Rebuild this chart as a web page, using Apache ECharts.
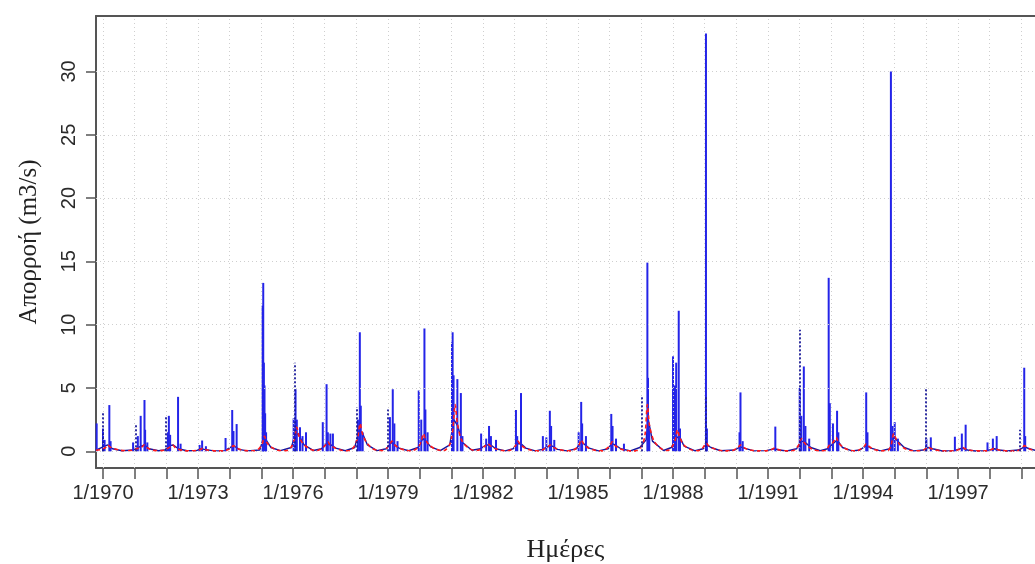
<!DOCTYPE html>
<html>
<head>
<meta charset="utf-8">
<script src="https://cdn.jsdelivr.net/npm/echarts@6/dist/echarts.min.js"></script>
<style>html,body{margin:0;padding:0;background:#fff}#c{width:1035px;height:564px}</style>
</head>
<body>
<div id="c"></div>
<script>
// ---- tick definitions ----
const yearTicks = [1970,1971,1972,1973,1974,1975,1976,1977,1978,1979,1980,1981,1982,1983,1984,1985,1986,1987,1988,1989,1990,1991,1992,1993,1994,1995,1996,1997,1998,1999];
const labelYears = [1970,1973,1976,1979,1982,1985,1988,1991,1994,1997];
const yTicks = [0,5,10,15,20,25,30];

// ---- observed flow: spike peaks (time in decimal years, m3/s) ----
const peakT = [1969.80,1970.00,1970.05,1970.20,1970.24,1970.95,1971.10,1971.19,1971.31,1971.33,1971.40,
  1972.05,1972.08,1972.12,1972.37,1972.45,1973.05,1973.13,1973.25,1973.87,1974.08,1974.12,1974.22,
  1975.04,1975.06,1975.08,1975.10,1975.12,1975.15,1976.02,1976.08,1976.12,1976.22,1976.30,1976.41,
  1976.94,1977.06,1977.10,1977.18,1977.26,1978.05,1978.11,1978.14,1978.20,1979.06,1979.15,1979.20,1979.30,
  1979.97,1980.05,1980.15,1980.18,1980.25,1981.02,1981.04,1981.07,1981.19,1981.30,1981.35,
  1981.94,1982.10,1982.19,1982.25,1982.41,1983.04,1983.08,1983.20,1983.89,1984.00,1984.11,1984.15,1984.25,
  1985.02,1985.10,1985.13,1985.25,1986.05,1986.09,1986.20,1986.45,1987.19,1987.21,1987.25,
  1988.00,1988.06,1988.10,1988.18,1988.22,1989.04,1989.07,1990.10,1990.13,1990.20,1991.23,
  1992.00,1992.05,1992.13,1992.18,1992.30,1992.915,1992.95,1993.05,1993.18,1993.22,1994.10,1994.14,
  1994.88,1994.93,1995.00,1995.10,1996.00,1996.14,1996.90,1997.12,1997.24,1997.93,1998.10,1998.22,1999.09,1999.12];
const peakQ = [2.2,1.8,0.9,3.65,0.8,0.7,1.2,2.8,4.05,1.7,0.7,
  1.5,2.8,1.3,4.3,0.6,0.5,0.85,0.4,1.05,3.26,1.6,2.15,
  11.5,13.3,7.0,5.2,3.0,1.5,2.6,4.9,2.5,1.9,1.2,1.5,
  2.3,5.3,1.5,1.4,1.4,2.5,9.4,3.6,1.5,2.7,4.9,2.2,0.8,
  4.8,2.5,9.7,3.3,1.5,8.6,9.4,6.0,5.7,4.6,1.2,
  1.4,1.0,2.0,1.2,0.9,3.26,1.2,4.6,1.2,1.1,3.2,2.0,0.9,
  1.5,3.9,2.2,1.2,2.95,2.0,1.0,0.6,14.9,5.8,1.8,
  7.5,5.2,7.0,11.1,1.8,33.0,1.8,1.5,4.65,0.8,1.95,
  5.0,2.8,6.7,2.0,1.0,13.7,3.8,2.2,3.2,1.5,4.65,1.5,
  30.0,2.0,2.3,1.0,1.0,1.1,1.15,1.4,2.1,0.7,1.0,1.2,6.6,1.2];

// ---- observed flow: spikes that appear dotted ----
const dotT = [1970.00,1971.03,1971.98,1976.06,1978.02,1979.00,1987.02,1989.02,1991.99,1995.97,1998.95];
const dotQ = [3.1,2.2,2.7,7.0,3.5,3.3,4.3,4.4,9.6,4.9,1.7];

// ---- observed flow: low-flow trace between spikes ----
const baseT = [1969.78,1970.05,1970.15,1970.30,1970.60,1970.95,1971.20,1971.32,1971.45,1971.75,
  1971.95,1972.10,1972.22,1972.38,1972.65,1972.95,1973.10,1973.20,1973.50,
  1973.85,1974.05,1974.15,1974.30,1974.55,1974.95,1975.05,1975.15,1975.30,1975.60,
  1975.95,1976.08,1976.20,1976.35,1976.65,1976.90,1977.05,1977.20,1977.35,1977.65,
  1977.95,1978.08,1978.18,1978.35,1978.65,1978.95,1979.10,1979.22,1979.35,1979.65,
  1979.95,1980.10,1980.20,1980.35,1980.65,1980.95,1981.08,1981.20,1981.35,1981.65,
  1981.92,1982.10,1982.25,1982.40,1982.70,1982.95,1983.08,1983.20,1983.35,1983.65,
  1983.88,1984.08,1984.20,1984.35,1984.65,1984.95,1985.08,1985.18,1985.35,1985.65,
  1985.95,1986.06,1986.18,1986.35,1986.65,1986.95,1987.15,1987.22,1987.35,1987.70,
  1987.95,1988.08,1988.20,1988.35,1988.70,1988.95,1989.06,1989.20,1989.50,
  1989.95,1990.12,1990.25,1990.55,1990.95,1991.20,1991.35,1991.60,
  1991.90,1992.05,1992.18,1992.35,1992.65,1992.88,1993.05,1993.18,1993.35,1993.65,
  1993.90,1994.10,1994.25,1994.55,1994.85,1994.97,1995.10,1995.30,1995.60,
  1995.90,1996.05,1996.20,1996.50,1996.88,1997.12,1997.30,1997.55,
  1997.90,1998.15,1998.30,1998.55,1998.90,1999.10,1999.25,1999.50,1999.75];
const baseQ = [0.1,0.4,0.5,0.2,0.04,0.1,0.4,0.5,0.2,0.04,
  0.1,0.45,0.5,0.2,0.04,0.05,0.2,0.15,0.03,
  0.05,0.35,0.4,0.15,0.03,0.1,0.9,0.9,0.3,0.05,
  0.3,1.5,1.2,0.5,0.06,0.2,0.6,0.5,0.25,0.04,
  0.3,1.6,1.5,0.5,0.05,0.2,0.7,0.5,0.25,0.04,
  0.3,1.0,0.8,0.35,0.05,0.5,2.5,2.0,0.7,0.08,
  0.2,0.5,0.5,0.2,0.03,0.2,0.6,0.6,0.25,0.03,
  0.15,0.4,0.4,0.15,0.03,0.2,0.7,0.6,0.25,0.03,
  0.2,0.6,0.5,0.2,0.03,0.3,0.9,2.5,0.8,0.06,
  0.3,1.0,1.2,0.4,0.04,0.2,0.5,0.3,0.04,
  0.1,0.35,0.25,0.03,0.05,0.2,0.1,0.02,
  0.2,0.8,0.7,0.3,0.04,0.2,0.6,0.9,0.3,0.03,
  0.1,0.45,0.25,0.03,0.2,1.1,0.8,0.3,0.03,
  0.1,0.3,0.2,0.02,0.05,0.25,0.1,0.02,
  0.05,0.2,0.1,0.02,0.1,0.35,0.2,0.04,0.02];

// ---- simulated flow (red dashed) ----
const simT = [1969.78,1969.95,1970.08,1970.15,1970.22,1970.35,1970.55,1970.75,
  1970.95,1971.12,1971.23,1971.30,1971.37,1971.50,1971.70,
  1971.85,1972.02,1972.13,1972.20,1972.27,1972.40,1972.60,
  1972.80,1972.97,1973.08,1973.15,1973.22,1973.35,1973.55,
  1973.77,1973.94,1974.05,1974.12,1974.19,1974.32,1974.52,
  1974.75,1974.92,1975.03,1975.10,1975.17,1975.30,1975.50,1975.70,
  1975.80,1975.96,1976.05,1976.12,1976.19,1976.32,1976.52,1976.72,
  1976.82,1976.95,1977.03,1977.10,1977.17,1977.30,1977.50,1977.70,
  1977.80,1977.96,1978.05,1978.12,1978.19,1978.32,1978.52,1978.72,
  1978.80,1978.96,1979.05,1979.12,1979.19,1979.32,1979.52,1979.72,
  1979.80,1979.96,1980.05,1980.12,1980.19,1980.32,1980.52,1980.72,
  1980.80,1980.96,1981.05,1981.12,1981.19,1981.32,1981.52,1981.72,
  1981.85,1982.00,1982.08,1982.15,1982.22,1982.35,1982.55,1982.75,
  1982.85,1982.98,1983.04,1983.10,1983.17,1983.30,1983.50,1983.70,
  1983.82,1983.97,1984.05,1984.12,1984.19,1984.32,1984.52,1984.72,
  1984.82,1984.97,1985.04,1985.10,1985.17,1985.30,1985.50,1985.70,
  1985.80,1985.95,1986.02,1986.08,1986.15,1986.28,1986.48,1986.70,
  1986.85,1987.02,1987.12,1987.19,1987.26,1987.40,1987.60,1987.78,
  1987.85,1987.98,1988.07,1988.14,1988.21,1988.34,1988.54,1988.74,
  1988.80,1988.93,1988.99,1989.05,1989.12,1989.25,1989.45,1989.65,
  1989.85,1989.99,1990.07,1990.13,1990.20,1990.33,1990.53,1990.73,
  1990.90,1991.05,1991.14,1991.20,1991.27,1991.40,1991.60,
  1991.78,1991.93,1991.99,1992.05,1992.12,1992.25,1992.45,1992.65,
  1992.82,1992.94,1993.05,1993.15,1993.22,1993.35,1993.55,1993.75,
  1993.82,1993.97,1994.04,1994.10,1994.17,1994.30,1994.50,1994.70,
  1994.78,1994.88,1994.92,1994.97,1995.04,1995.17,1995.37,1995.57,
  1995.80,1995.95,1996.00,1996.05,1996.12,1996.25,1996.45,1996.65,
  1996.85,1997.00,1997.08,1997.15,1997.22,1997.35,1997.55,
  1997.85,1998.00,1998.08,1998.15,1998.22,1998.35,1998.55,1998.75,
  1998.85,1998.98,1999.04,1999.10,1999.17,1999.30,1999.50,1999.75];
const simQ = [0.08,0.15,0.3,0.5,0.35,0.2,0.08,0.04,
  0.1,0.25,0.35,0.5,0.32,0.15,0.05,
  0.05,0.2,0.35,0.5,0.32,0.15,0.05,
  0.03,0.08,0.15,0.25,0.15,0.08,0.03,
  0.03,0.12,0.28,0.45,0.3,0.15,0.05,
  0.04,0.2,0.6,1.2,0.7,0.35,0.1,0.04,
  0.06,0.4,1.0,1.9,1.2,0.6,0.2,0.06,
  0.1,0.3,0.5,0.75,0.5,0.3,0.1,0.04,
  0.06,0.5,1.2,2.2,1.4,0.7,0.2,0.06,
  0.05,0.25,0.5,0.8,0.55,0.3,0.1,0.04,
  0.06,0.35,0.8,1.4,0.9,0.45,0.15,0.05,
  0.08,0.6,1.8,3.7,2.2,0.9,0.3,0.08,
  0.08,0.3,0.45,0.6,0.45,0.25,0.08,0.03,
  0.08,0.3,0.5,0.8,0.55,0.3,0.1,0.03,
  0.05,0.25,0.35,0.5,0.35,0.2,0.07,0.03,
  0.05,0.3,0.55,0.9,0.6,0.3,0.1,0.03,
  0.05,0.3,0.5,0.75,0.5,0.25,0.08,0.03,
  0.05,0.4,1.4,3.7,2.0,0.8,0.25,0.06,
  0.08,0.4,0.9,1.7,1.1,0.5,0.15,0.04,
  0.05,0.25,0.45,0.65,0.45,0.25,0.08,0.03,
  0.04,0.2,0.35,0.5,0.35,0.18,0.06,0.03,
  0.03,0.1,0.17,0.25,0.17,0.08,0.03,
  0.04,0.35,0.6,1.0,0.75,0.4,0.12,0.04,
  0.06,0.5,0.7,1.1,0.7,0.35,0.1,0.03,
  0.04,0.25,0.4,0.6,0.42,0.2,0.06,0.03,
  0.05,0.4,0.9,1.4,1.0,0.5,0.15,0.04,
  0.04,0.15,0.25,0.35,0.25,0.12,0.04,0.02,
  0.03,0.12,0.2,0.3,0.2,0.1,0.03,
  0.03,0.1,0.17,0.25,0.17,0.08,0.03,0.02,
  0.03,0.15,0.3,0.45,0.32,0.15,0.05,0.03];

// ---- build series data from the arrays ----
const zip = (a, b) => a.map((t, i) => [t, b[i]]);
const peakData = zip(peakT, peakQ);
const baseData = zip(baseT, baseQ);
const simData = zip(simT, simQ);
const dotLines = dotT.map((t, i) => [{ coord: [t, 0] }, { coord: [t, dotQ[i]] }]);
const gridLines = yearTicks.map(v => ({ xAxis: v })).concat(yTicks.map(v => ({ yAxis: v })));

const chart = echarts.init(document.getElementById('c'), null, { renderer: 'canvas' });
const axisGray = '#555';
const X_MIN = 1969.779, X_MAX = 1999.43;
chart.setOption({
  animation: false,
  backgroundColor: '#ffffff',
  grid: { left: 96, top: 16, right: 0, bottom: 96, show: false, containLabel: false, outerBoundsMode: 'none' },
  xAxis: [{
    type: 'value', min: X_MIN, max: X_MAX, position: 'bottom',
    name: 'Ημέρες', nameLocation: 'middle', nameGap: 69,
    nameTextStyle: { fontFamily: 'Liberation Serif', fontSize: 26, color: '#222' },
    axisLine: { show: true, onZero: false, lineStyle: { color: axisGray, width: 2 } },
    axisTick: { show: true, inside: false, length: 11, customValues: yearTicks, lineStyle: { color: axisGray, width: 1.5 } },
    axisLabel: { show: true, customValues: labelYears, margin: 15, fontFamily: 'Liberation Sans', fontSize: 20, color: '#2a2a2a',
      formatter: v => '1/' + v },
    splitLine: { show: false }
  }, {
    type: 'value', min: X_MIN, max: X_MAX, position: 'top',
    axisLine: { show: true, onZero: false, lineStyle: { color: axisGray, width: 2 } },
    axisTick: { show: false }, axisLabel: { show: false }, splitLine: { show: false }
  }],
  yAxis: {
    type: 'value', min: -1.32, max: 34.38,
    name: 'Απορροή (m3/s)', nameLocation: 'middle', nameGap: 54, nameRotate: 90,
    nameTextStyle: { fontFamily: 'Liberation Serif', fontSize: 25, color: '#222' },
    axisLine: { show: true, onZero: false, lineStyle: { color: axisGray, width: 2 } },
    axisTick: { show: true, inside: false, length: 10, customValues: yTicks, lineStyle: { color: axisGray, width: 1.5 } },
    axisLabel: { show: true, customValues: yTicks, rotate: 90, margin: 17, fontFamily: 'Liberation Sans', fontSize: 20, color: '#2a2a2a' },
    splitLine: { show: false }
  },
  series: [
    { type: 'line', data: [], silent: true, z: 1,
      markLine: { silent: true, symbol: 'none', label: { show: false }, animation: false,
        lineStyle: { color: '#cfcfcf', type: [1, 3], width: 1 }, data: gridLines } },
    { type: 'line', data: baseData, showSymbol: false, z: 2, silent: true,
      lineStyle: { color: '#1515a0', width: 1.4 } },
    { type: 'bar', data: peakData, barWidth: 2, z: 3, silent: true,
      itemStyle: { color: '#2424e8' },
      markLine: { silent: true, symbol: 'none', label: { show: false }, animation: false,
        lineStyle: { color: '#1a1a9a', type: [2, 2], width: 1.8 }, data: dotLines } },
    { type: 'line', data: simData, showSymbol: false, z: 4, silent: true, smooth: 0.3,
      lineStyle: { color: '#ff1a1a', width: 1.6, type: [4, 3] } }
  ]
});
</script>
</body>
</html>
